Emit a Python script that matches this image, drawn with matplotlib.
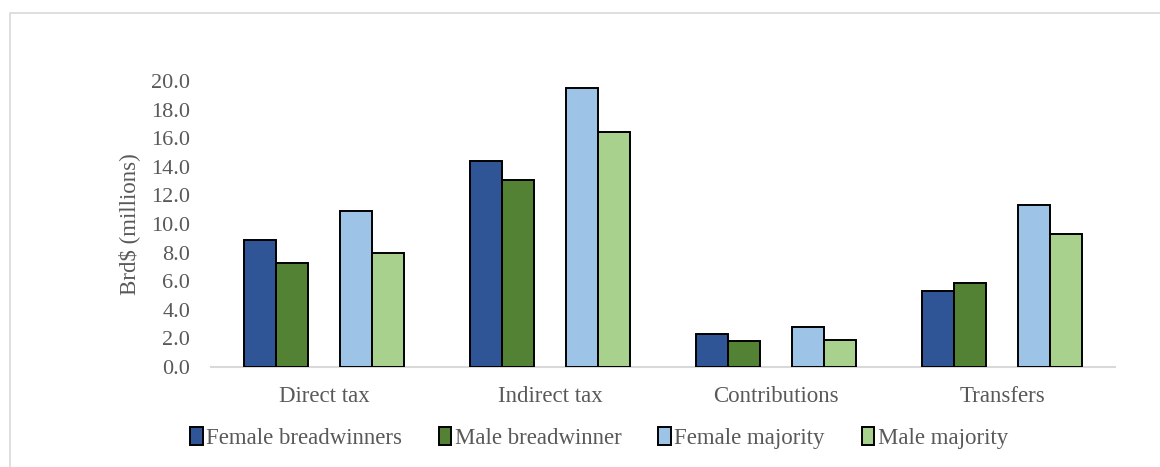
import numpy as np
from matplotlib import pyplot as plt
from matplotlib.patches import Rectangle

plt.rcParams['font.family'] = ['Liberation Serif', 'DejaVu Serif']

# data
categories = ['Direct tax', 'Indirect tax', 'Contributions', 'Transfers']
series = ['Female breadwinners', 'Male breadwinner', 'Female majority', 'Male majority']
female_bw = [8.9, 14.4, 2.3, 5.3]
male_bw = [7.3, 13.1, 1.8, 5.9]
female_maj = [10.9, 19.5, 2.8, 11.3]
male_maj = [8.0, 16.4, 1.9, 9.3]
yticks = [0, 2, 4, 6, 8, 10, 12, 14, 16, 18, 20]

colors = ['#2f5597', '#548235', '#9dc3e6', '#a9d18e']
grey = '#595959'

fig = plt.figure(figsize=(11.6, 4.67), dpi=100)
ax = fig.add_axes([211/1160, 1-367/467, (1115-211)/1160, (367-81)/467])

x = np.arange(len(categories))
w = 0.1416
offsets = [-2, -1, 1, 2]   # empty slot in the middle of each group
for vals, off, c, lab in zip([female_bw, male_bw, female_maj, male_maj], offsets, colors, series):
    ax.bar(x + off*w, vals, w, color=c, edgecolor='black', linewidth=1.4, label=lab, zorder=3)

ax.set_xlim(-0.5, len(categories) - 0.5)
ax.set_ylim(0, 20)
ax.set_yticks(yticks)
ax.set_yticklabels(['%.1f' % v for v in yticks])
ax.set_xticks(x)
ax.set_xticklabels(categories)
ax.tick_params(axis='y', length=0, pad=15, labelsize=16, labelcolor=grey)
ax.tick_params(axis='x', length=0, pad=14, labelsize=16.5, labelcolor=grey)
for s in ['top', 'right', 'left']:
    ax.spines[s].set_visible(False)
ax.spines['bottom'].set_color('#d9d9d9')
ax.spines['bottom'].set_linewidth(1.5)
ax.set_ylabel('Brd$ (millions)', fontsize=16.5, color=grey, labelpad=8)

leg = fig.legend(loc='center', bbox_to_anchor=(599/1160, 1-438/467), ncol=4, frameon=False,
                 fontsize=16.5, handlelength=0.55, handleheight=0.8, handletextpad=0.15,
                 columnspacing=1.6, labelcolor=grey)

# light grey chart-area frame
fig.patches.append(Rectangle((10/1160, -0.1), 1.2, 1.1 - 13/467, transform=fig.transFigure,
                             fill=False, edgecolor='#d9d9d9', linewidth=1.2))

fig.savefig('out.png', dpi=100)
